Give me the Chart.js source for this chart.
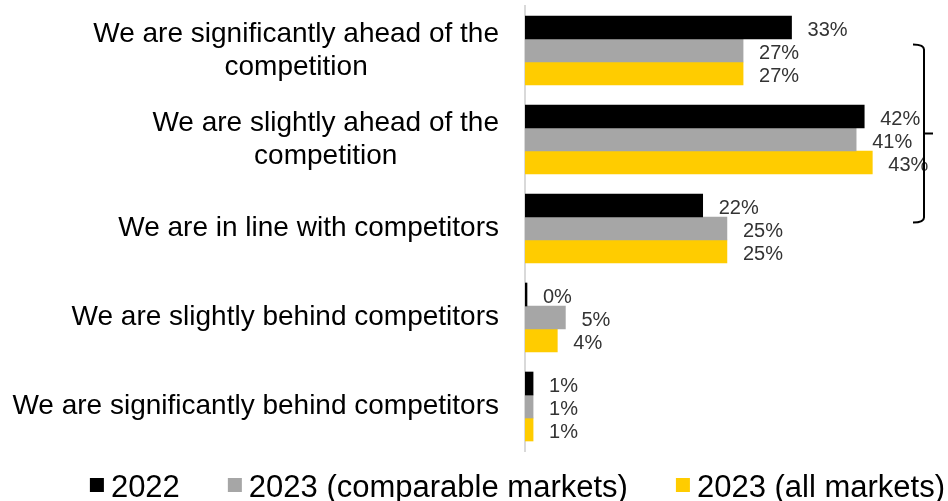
<!DOCTYPE html>
<html>
<head>
<meta charset="utf-8">
<script src="https://cdn.jsdelivr.net/npm/chart.js@4.4.1/dist/chart.umd.min.js"></script>
<style>
  html, body { margin: 0; padding: 0; background: #fff; }
  #wrap { width: 948px; height: 501px; }
</style>
</head>
<body>
<div id="wrap"><canvas id="positionChart"></canvas></div>
<script>
const categories = [
  ['We are significantly ahead of the', 'competition'],
  ['We are slightly ahead of the', 'competition'],
  'We are in line with competitors',
  'We are slightly behind competitors',
  'We are significantly behind competitors'
];
const seriesNames = ['2022', '2023 (comparable markets)', '2023 (all markets)'];
const values2022 = [33, 42, 22, 0, 1];
const valuesComparable = [27, 41, 25, 5, 1];
const valuesAll = [27, 43, 25, 4, 1];
const seriesColors = ['#000000', '#a6a6a6', '#ffcc00'];

const FONT = '"Liberation Sans", Arial, sans-serif';

// percentage next to the end of every bar
const valueLabels = {
  id: 'valueLabels',
  afterDatasetsDraw(chart) {
    const ctx = chart.ctx;
    ctx.save();
    ctx.font = '20px ' + FONT;
    ctx.fillStyle = '#333';
    ctx.textAlign = 'left';
    ctx.textBaseline = 'middle';
    chart.data.datasets.forEach((ds, i) => {
      chart.getDatasetMeta(i).data.forEach((bar, j) => {
        ctx.fillText(ds.data[j] + '%', bar.x + 16, bar.y + 3);
      });
    });
    ctx.restore();
  }
};

// category names: lines centred in their block, block right-aligned to the axis
const categoryLabels = {
  id: 'categoryLabels',
  afterDraw(chart) {
    const ctx = chart.ctx;
    const yScale = chart.scales.y;
    const right = yScale.right - 26;
    ctx.save();
    ctx.font = '28px ' + FONT;
    ctx.fillStyle = '#000';
    ctx.textAlign = 'center';
    ctx.textBaseline = 'middle';
    categories.forEach((label, i) => {
      const lines = Array.isArray(label) ? label : [label];
      const widest = Math.max(...lines.map(l => ctx.measureText(l).width));
      const cx = right - widest / 2;
      const cy = yScale.getPixelForTick(i);
      lines.forEach((line, j) => {
        ctx.fillText(line, cx, cy + (j - (lines.length - 1) / 2) * 33);
      });
    });
    ctx.restore();
  }
};

// brace grouping the first three answers
const bracket = {
  id: 'bracket',
  afterDraw(chart) {
    const {ctx, chartArea} = chart;
    const y = chart.scales.y;
    const x = chartArea.right - 21;
    const top = y.getPixelForValue(0) - 6;
    const mid = y.getPixelForValue(1) - 6;
    const bottom = y.getPixelForValue(2) - 6;
    ctx.save();
    ctx.strokeStyle = '#000';
    ctx.lineWidth = 2;
    ctx.beginPath();
    ctx.moveTo(x - 11, top);
    ctx.quadraticCurveTo(x, top, x, top + 5);
    ctx.lineTo(x, bottom - 5);
    ctx.quadraticCurveTo(x, bottom, x - 11, bottom);
    ctx.moveTo(x, mid);
    ctx.lineTo(x + 9, mid);
    ctx.stroke();
    ctx.restore();
  }
};

// legend row along the bottom, right-aligned
const bottomLegend = {
  id: 'bottomLegend',
  afterDraw(chart) {
    const ctx = chart.ctx;
    const box = 14, gap = 7, spacing = 48;
    ctx.save();
    ctx.font = '31px ' + FONT;
    ctx.textAlign = 'left';
    ctx.textBaseline = 'alphabetic';
    const widths = seriesNames.map(n => ctx.measureText(n).width);
    const total = widths.reduce((a, w) => a + box + gap + w, 0) + spacing * (seriesNames.length - 1);
    let x = chart.chartArea.right - total;
    const baseline = chart.height - 4;
    seriesNames.forEach((name, i) => {
      ctx.fillStyle = seriesColors[i];
      ctx.fillRect(x, baseline - 19, box, box);
      ctx.fillStyle = '#000';
      ctx.fillText(name, x + box + gap, baseline);
      x += box + gap + widths[i] + spacing;
    });
    ctx.restore();
  }
};

new Chart(document.getElementById('positionChart'), {
  type: 'bar',
  data: {
    labels: categories,
    datasets: [
      { label: seriesNames[0], data: values2022, backgroundColor: seriesColors[0], minBarLength: 2 },
      { label: seriesNames[1], data: valuesComparable, backgroundColor: seriesColors[1] },
      { label: seriesNames[2], data: valuesAll, backgroundColor: seriesColors[2] }
    ]
  },
  options: {
    indexAxis: 'y',
    responsive: true,
    maintainAspectRatio: false,
    animation: false,
    layout: { padding: { top: 6, right: 3, bottom: 50, left: 0 } },
    datasets: { bar: { barThickness: 23 } },
    scales: {
      x: { display: false, min: 0, max: 52 },
      y: {
        grid: { display: false, drawTicks: false },
        border: { display: true, color: '#d9d9d9', width: 2 },
        ticks: { display: false },
        afterFit(scale) { scale.width = 525; }
      }
    },
    plugins: { legend: { display: false }, tooltip: { enabled: false } }
  },
  plugins: [valueLabels, categoryLabels, bracket, bottomLegend]
});
</script>
</body>
</html>
